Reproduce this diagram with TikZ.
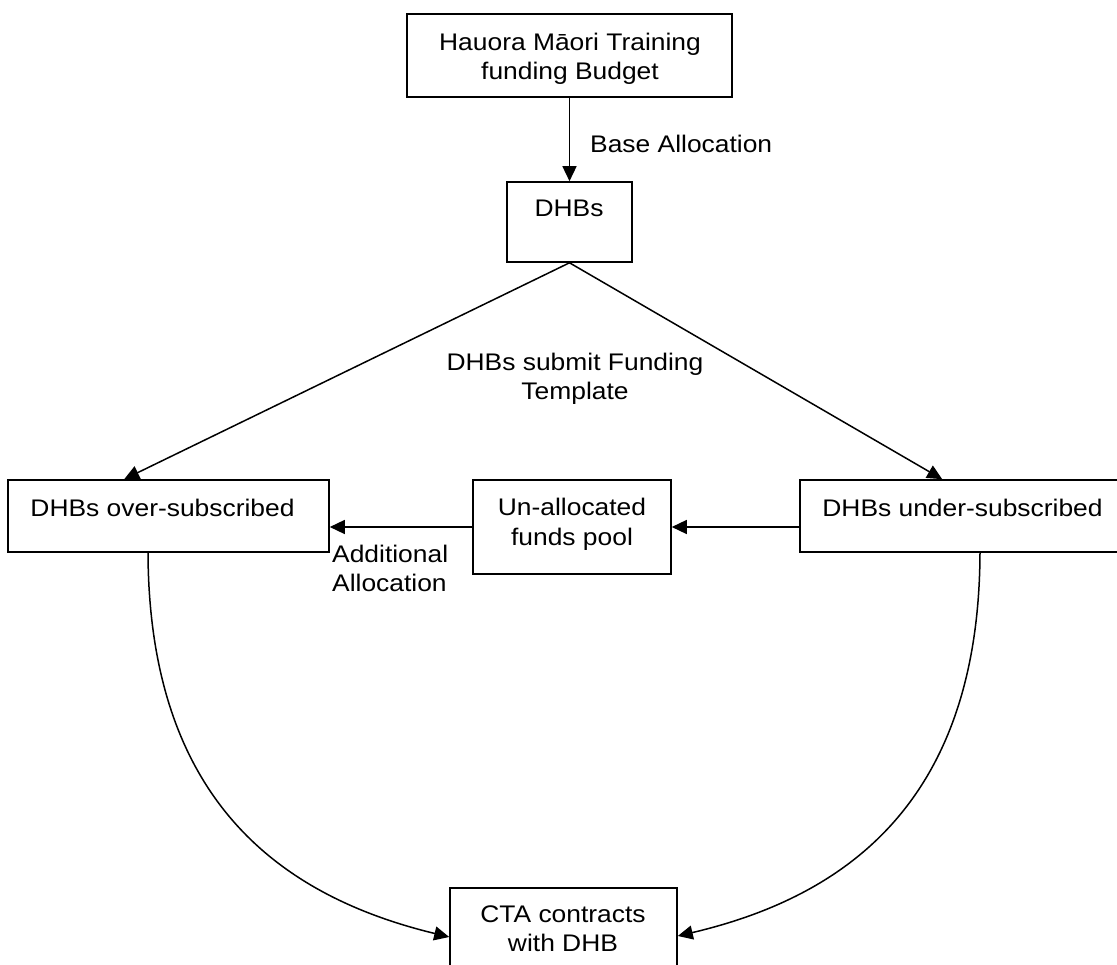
\documentclass[tikz,border=0pt]{standalone}
\usepackage{fontspec}
\setmainfont{Liberation Sans}[FakeStretch=1.1]
\usetikzlibrary{arrows.meta}
\begin{document}
\begin{tikzpicture}[x=1pt,y=-1pt,
  box/.style={draw, line width=1.6pt, inner sep=0pt},
  txt/.style={inner sep=0pt, align=center, font=\fontsize{24}{29.5}\selectfont},
  arr/.style={line width=1.5pt, -{Triangle[length=15pt,width=14pt]}}]
\useasboundingbox (0,0) rectangle (1117,965);
\clip (0,0) rectangle (1117,965);
% boxes
\node[box, minimum width=325pt, minimum height=83pt] (budget) at (569.5,55.5) {};
\node[box, minimum width=125pt, minimum height=80pt] (dhbs) at (569.5,222) {};
\node[box, minimum width=321pt, minimum height=72pt] (over) at (168.5,516) {};
\node[box, minimum width=198pt, minimum height=94pt] (pool) at (572,527) {};
\node[box, minimum width=325pt, minimum height=72pt] (under) at (962.5,516) {};
\node[box, minimum width=227pt, minimum height=84pt] (cta) at (563.5,930) {};
% texts
\node[txt] (budgettxt) at (570,58.75) {Hauora Māori Training\\funding Budget};
\node[txt, anchor=base] (dhbstxt) at (569,217) {DHBs};
\node[txt, anchor=base] (overtxt) at (162.5,516) {DHBs over-subscribed};
\node[txt] (pooltxt) at (572,524.25) {Un-allocated\\funds pool};
\node[txt, anchor=base] (undertxt) at (962.5,516) {DHBs under-subscribed};
\node[txt] (ctatxt) at (563,928.75) {CTA contracts\\with DHB};
% labels
\node[txt, anchor=base west] (baselbl) at (590,153) {Base Allocation};
\node[txt] (submitlbl) at (575,378.75) {DHBs submit Funding\\Template};
\node[txt, anchor=west, align=left] (addlbl) at (332,568.4) {Additional\\Allocation};
% connectors
\draw[arr] (budget.south) -- (dhbs.north);
\draw[arr] (dhbs.south) -- ([xshift=117pt]over.north west);
\draw[arr] (dhbs.south) -- ([xshift=143pt]under.north west);
\draw[arr] (under.west |- pool.east) -- (pool.east);
\draw[arr] (pool.west) -- (over.east |- pool.west);
\draw[arr] ([xshift=-20.5pt]over.south) .. controls (149,800) and (280,896) .. ([yshift=-7pt]cta.west);
\draw[arr] ([xshift=17.5pt]under.south) .. controls (979,800) and (848,896) .. ([yshift=-6pt]cta.east);
\end{tikzpicture}
\end{document}
